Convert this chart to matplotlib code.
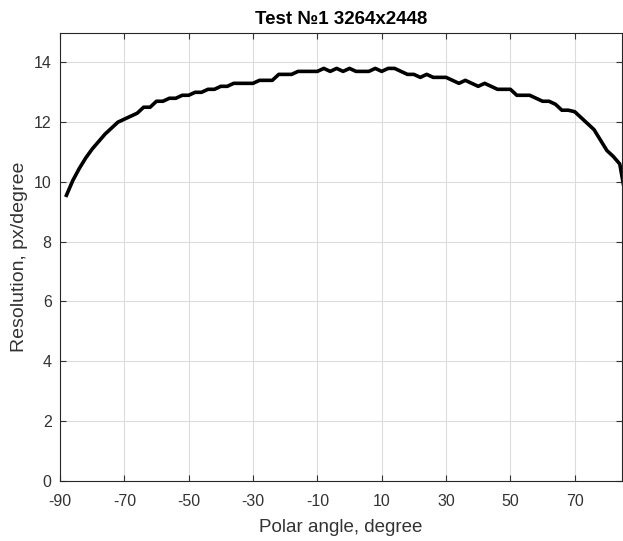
import matplotlib
matplotlib.use("Agg")
import matplotlib.pyplot as plt
import numpy as np

plt.rcParams["font.family"] = ["Liberation Sans", "DejaVu Sans"]
plt.rcParams["axes.unicode_minus"] = False

# polar angle, degree (2 degree steps) and resolution, px/degree
angle = np.arange(-88, 88, 2)
resolution = [9.55, 10.05, 10.45, 10.8, 11.1, 11.35, 11.6, 11.8, 12.0, 12.1,
			  12.2, 12.3, 12.5, 12.5, 12.7, 12.7, 12.8, 12.8, 12.9, 12.9,
			  13.0, 13.0, 13.1, 13.1, 13.2, 13.2, 13.3, 13.3, 13.3, 13.3,
			  13.4, 13.4, 13.4, 13.6, 13.6, 13.6, 13.7, 13.7, 13.7, 13.7,
			  13.8, 13.7, 13.8, 13.7, 13.8, 13.7, 13.7, 13.7, 13.8, 13.7,
			  13.8, 13.8, 13.7, 13.6, 13.6, 13.5, 13.6, 13.5, 13.5, 13.5,
			  13.4, 13.3, 13.4, 13.3, 13.2, 13.3, 13.2, 13.1, 13.1, 13.1,
			  12.9, 12.9, 12.9, 12.8, 12.7, 12.7, 12.6, 12.4, 12.4, 12.35,
			  12.15, 11.95, 11.75, 11.4, 11.05, 10.85, 10.6, 9.4]
x_ticks = np.arange(-90, 71, 20)
y_ticks = np.arange(0, 15, 2)

fig = plt.figure(figsize=(6.23, 5.41), dpi=100)
ax = fig.add_axes([0.0963, 0.1118, 0.9016, 0.828])

ax.plot(angle, resolution, color="black", lw=2.6, solid_joinstyle="round")
ax.set_xlim(-90, 84.6)
ax.set_ylim(0, 15)
ax.set_xticks(x_ticks)
ax.set_yticks(y_ticks)
ax.grid(True, color="#dcdcdc", lw=0.8)
ax.set_axisbelow(True)
ax.tick_params(direction="in", top=True, right=True, length=4, width=0.8,
			   labelsize=11.5, colors="#333333")
ax.tick_params(axis="x", pad=10)
ax.tick_params(axis="y", pad=6)
for s in ax.spines.values():
	s.set_color("#262626")
	s.set_linewidth(0.8)

ax.set_xlabel("Polar angle, degree", fontsize=13.5, color="#333333", labelpad=7)
ax.set_ylabel("Resolution, px/degree", fontsize=14, color="#333333", labelpad=4)
ax.set_title("Test №1 3264x2448", fontsize=13.5, fontweight="bold", pad=6)

fig.savefig("out.png", dpi=100, facecolor="white")
